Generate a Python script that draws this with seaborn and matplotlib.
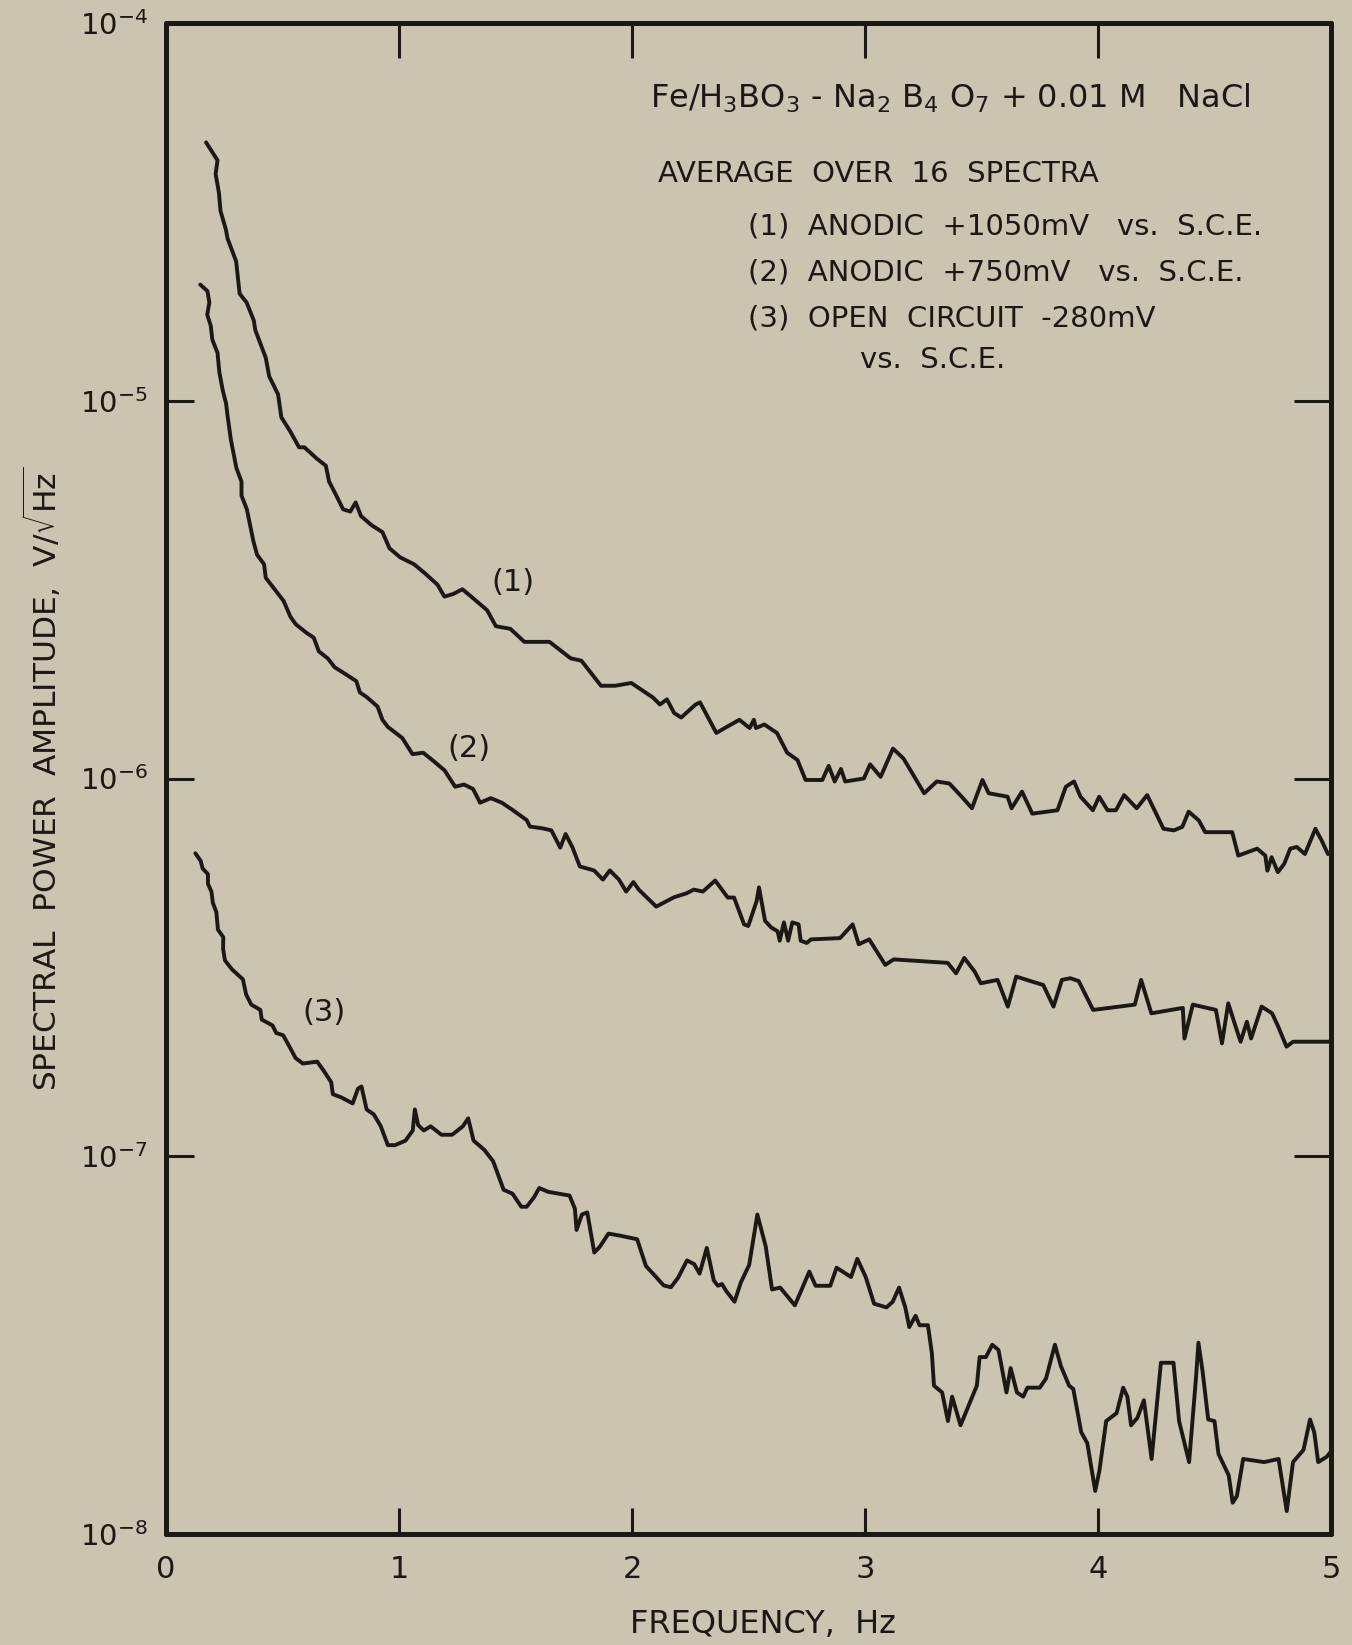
import matplotlib
matplotlib.use("Agg")
import matplotlib.pyplot as plt
from matplotlib.ticker import NullLocator
import seaborn as sns

# ---- spectra: frequency (Hz) and spectral power amplitude (V/sqrt(Hz)) ----
freq_1 = [0.172, 0.221, 0.213, 0.227, 0.234, 0.257, 0.264, 0.301, 0.316, 0.346,
          0.377, 0.383, 0.428, 0.443, 0.481, 0.495, 0.533, 0.571, 0.594, 0.647,
          0.686, 0.700, 0.731, 0.760, 0.791, 0.814, 0.837, 0.883, 0.929, 0.959,
          1.005, 1.065, 1.112, 1.165, 1.195, 1.233, 1.272, 1.310, 1.378, 1.416,
          1.478, 1.538, 1.646, 1.737, 1.783, 1.867, 1.928, 1.997, 2.089, 2.120,
          2.150, 2.181, 2.211, 2.273, 2.292, 2.362, 2.398, 2.461, 2.505, 2.523,
          2.532, 2.568, 2.622, 2.666, 2.710, 2.745, 2.817, 2.844, 2.870, 2.897,
          2.915, 2.995, 3.022, 3.067, 3.120, 3.165, 3.254, 3.308, 3.362, 3.415,
          3.459, 3.504, 3.531, 3.612, 3.629, 3.674, 3.718, 3.826, 3.862, 3.897,
          3.925, 3.978, 4.005, 4.041, 4.077, 4.112, 4.166, 4.211, 4.281, 4.326,
          4.362, 4.389, 4.433, 4.460, 4.576, 4.602, 4.683, 4.718, 4.727, 4.745,
          4.772, 4.799, 4.825, 4.853, 4.888, 4.933, 4.960, 4.987]
amp_1 = [4.83e-5, 4.33e-5, 3.98e-5, 3.56e-5, 3.18e-5, 2.84e-5, 2.69e-5, 2.34e-5, 1.92e-5, 1.82e-5,
         1.63e-5, 1.54e-5, 1.30e-5, 1.16e-5, 1.04e-5, 9.04e-6, 8.30e-6, 7.53e-6, 7.53e-6, 7.03e-6,
         6.73e-6, 6.11e-6, 5.61e-6, 5.16e-6, 5.09e-6, 5.38e-6, 4.95e-6, 4.68e-6, 4.49e-6, 4.07e-6,
         3.85e-6, 3.69e-6, 3.49e-6, 3.26e-6, 3.03e-6, 3.08e-6, 3.17e-6, 3.03e-6, 2.79e-6, 2.53e-6,
         2.49e-6, 2.30e-6, 2.30e-6, 2.08e-6, 2.05e-6, 1.76e-6, 1.76e-6, 1.79e-6, 1.64e-6, 1.57e-6,
         1.62e-6, 1.49e-6, 1.45e-6, 1.57e-6, 1.59e-6, 1.32e-6, 1.36e-6, 1.43e-6, 1.36e-6, 1.43e-6,
         1.36e-6, 1.39e-6, 1.32e-6, 1.17e-6, 1.12e-6, 9.91e-7, 9.91e-7, 1.08e-6, 9.82e-7, 1.06e-6,
         9.82e-7, 1.00e-6, 1.09e-6, 1.01e-6, 1.20e-6, 1.13e-6, 9.14e-7, 9.82e-7, 9.70e-7, 8.95e-7,
         8.34e-7, 9.91e-7, 9.14e-7, 8.95e-7, 8.34e-7, 9.23e-7, 8.07e-7, 8.24e-7, 9.51e-7, 9.82e-7,
         8.95e-7, 8.24e-7, 8.95e-7, 8.24e-7, 8.24e-7, 9.04e-7, 8.34e-7, 9.04e-7, 7.36e-7, 7.29e-7,
         7.45e-7, 8.17e-7, 7.74e-7, 7.21e-7, 7.21e-7, 6.25e-7, 6.52e-7, 6.25e-7, 5.70e-7, 6.19e-7,
         5.65e-7, 5.94e-7, 6.52e-7, 6.59e-7, 6.31e-7, 7.36e-7, 6.85e-7, 6.31e-7]

freq_2 = [0.147, 0.178, 0.186, 0.177, 0.192, 0.199, 0.221, 0.229, 0.243, 0.258,
          0.265, 0.279, 0.302, 0.324, 0.324, 0.347, 0.375, 0.391, 0.421, 0.428,
          0.466, 0.505, 0.534, 0.557, 0.603, 0.634, 0.656, 0.694, 0.724, 0.770,
          0.817, 0.832, 0.863, 0.908, 0.929, 0.952, 1.014, 1.058, 1.104, 1.150,
          1.196, 1.241, 1.279, 1.318, 1.348, 1.394, 1.441, 1.487, 1.548, 1.562,
          1.616, 1.654, 1.692, 1.715, 1.745, 1.776, 1.837, 1.875, 1.905, 1.944,
          1.975, 2.006, 2.029, 2.104, 2.150, 2.181, 2.235, 2.265, 2.304, 2.357,
          2.411, 2.438, 2.481, 2.499, 2.535, 2.545, 2.571, 2.598, 2.625, 2.634,
          2.652, 2.670, 2.688, 2.715, 2.724, 2.750, 2.768, 2.893, 2.947, 2.973,
          3.018, 3.087, 3.123, 3.355, 3.391, 3.426, 3.471, 3.497, 3.569, 3.613,
          3.649, 3.694, 3.765, 3.809, 3.845, 3.881, 3.917, 3.979, 4.158, 4.185,
          4.229, 4.364, 4.371, 4.407, 4.506, 4.532, 4.559, 4.586, 4.612, 4.639,
          4.657, 4.702, 4.747, 4.774, 4.809, 4.837, 4.998]
amp_2 = [2.03e-5, 1.95e-5, 1.82e-5, 1.69e-5, 1.58e-5, 1.45e-5, 1.34e-5, 1.19e-5, 1.07e-5, 9.82e-6,
         9.04e-6, 7.85e-6, 6.64e-6, 6.11e-6, 5.61e-6, 5.16e-6, 4.25e-6, 3.91e-6, 3.69e-6, 3.40e-6,
         3.17e-6, 2.95e-6, 2.68e-6, 2.56e-6, 2.43e-6, 2.36e-6, 2.17e-6, 2.08e-6, 1.97e-6, 1.89e-6,
         1.81e-6, 1.69e-6, 1.64e-6, 1.55e-6, 1.43e-6, 1.37e-6, 1.28e-6, 1.16e-6, 1.17e-6, 1.11e-6,
         1.05e-6, 9.51e-7, 9.64e-7, 9.38e-7, 8.63e-7, 8.87e-7, 8.63e-7, 8.26e-7, 7.76e-7, 7.46e-7,
         7.38e-7, 7.29e-7, 6.56e-7, 7.13e-7, 6.56e-7, 5.85e-7, 5.71e-7, 5.40e-7, 5.71e-7, 5.40e-7,
         5.02e-7, 5.32e-7, 5.08e-7, 4.58e-7, 4.74e-7, 4.85e-7, 4.97e-7, 5.08e-7, 5.02e-7, 5.37e-7,
         4.84e-7, 4.84e-7, 4.11e-7, 4.07e-7, 4.74e-7, 5.15e-7, 4.20e-7, 4.03e-7, 3.94e-7, 3.72e-7,
         4.16e-7, 3.72e-7, 4.16e-7, 4.11e-7, 3.72e-7, 3.67e-7, 3.75e-7, 3.78e-7, 4.11e-7, 3.64e-7,
         3.75e-7, 3.21e-7, 3.32e-7, 3.25e-7, 3.05e-7, 3.35e-7, 3.08e-7, 2.87e-7, 2.93e-7, 2.49e-7,
         2.99e-7, 2.93e-7, 2.84e-7, 2.49e-7, 2.93e-7, 2.96e-7, 2.91e-7, 2.44e-7, 2.52e-7, 2.93e-7,
         2.39e-7, 2.47e-7, 2.05e-7, 2.52e-7, 2.44e-7, 1.99e-7, 2.54e-7, 2.25e-7, 2.01e-7, 2.27e-7,
         2.05e-7, 2.49e-7, 2.39e-7, 2.20e-7, 1.95e-7, 2.01e-7, 2.01e-7]

freq_3 = [0.126, 0.149, 0.157, 0.180, 0.180, 0.195, 0.201, 0.216, 0.223, 0.246,
          0.245, 0.253, 0.284, 0.330, 0.344, 0.366, 0.405, 0.411, 0.457, 0.473,
          0.503, 0.534, 0.556, 0.587, 0.649, 0.678, 0.709, 0.716, 0.754, 0.801,
          0.824, 0.839, 0.861, 0.892, 0.922, 0.952, 0.983, 1.028, 1.059, 1.068,
          1.082, 1.106, 1.136, 1.182, 1.228, 1.274, 1.297, 1.320, 1.366, 1.404,
          1.449, 1.487, 1.525, 1.548, 1.579, 1.602, 1.640, 1.732, 1.755, 1.762,
          1.785, 1.808, 1.838, 1.861, 1.899, 1.945, 2.022, 2.060, 2.098, 2.136,
          2.167, 2.198, 2.236, 2.267, 2.290, 2.321, 2.351, 2.369, 2.386, 2.404,
          2.440, 2.467, 2.503, 2.538, 2.574, 2.601, 2.636, 2.699, 2.735, 2.761,
          2.788, 2.851, 2.878, 2.940, 2.967, 3.003, 3.039, 3.092, 3.119, 3.146,
          3.173, 3.190, 3.217, 3.234, 3.270, 3.287, 3.296, 3.331, 3.356, 3.374,
          3.410, 3.454, 3.480, 3.492, 3.519, 3.546, 3.573, 3.607, 3.625, 3.652,
          3.679, 3.697, 3.750, 3.777, 3.815, 3.841, 3.876, 3.894, 3.928, 3.954,
          3.988, 4.006, 4.035, 4.080, 4.108, 4.126, 4.142, 4.169, 4.197, 4.230,
          4.270, 4.324, 4.348, 4.391, 4.421, 4.431, 4.449, 4.473, 4.500, 4.517,
          4.561, 4.578, 4.596, 4.623, 4.713, 4.775, 4.810, 4.837, 4.882, 4.910,
          4.928, 4.945, 4.981, 4.999]
amp_3 = [6.34e-7, 6.05e-7, 5.78e-7, 5.58e-7, 5.26e-7, 5.02e-7, 4.69e-7, 4.43e-7, 3.98e-7, 3.80e-7,
         3.54e-7, 3.30e-7, 3.12e-7, 2.94e-7, 2.68e-7, 2.52e-7, 2.44e-7, 2.30e-7, 2.22e-7, 2.12e-7,
         2.09e-7, 1.93e-7, 1.82e-7, 1.76e-7, 1.78e-7, 1.68e-7, 1.57e-7, 1.46e-7, 1.43e-7, 1.38e-7,
         1.51e-7, 1.53e-7, 1.33e-7, 1.29e-7, 1.20e-7, 1.07e-7, 1.07e-7, 1.10e-7, 1.17e-7, 1.33e-7,
         1.21e-7, 1.17e-7, 1.20e-7, 1.14e-7, 1.14e-7, 1.20e-7, 1.26e-7, 1.10e-7, 1.04e-7, 9.70e-8,
         8.15e-8, 7.96e-8, 7.35e-8, 7.35e-8, 7.78e-8, 8.24e-8, 8.05e-8, 7.87e-8, 7.26e-8, 6.38e-8,
         7.01e-8, 7.10e-8, 5.56e-8, 5.75e-8, 6.24e-8, 6.17e-8, 6.03e-8, 5.12e-8, 4.83e-8, 4.55e-8,
         4.50e-8, 4.77e-8, 5.30e-8, 5.18e-8, 4.89e-8, 5.72e-8, 4.69e-8, 4.54e-8, 4.59e-8, 4.40e-8,
         4.12e-8, 4.63e-8, 5.16e-8, 7.01e-8, 5.77e-8, 4.44e-8, 4.49e-8, 4.03e-8, 4.54e-8, 4.95e-8,
         4.54e-8, 4.54e-8, 5.07e-8, 4.79e-8, 5.35e-8, 4.79e-8, 4.07e-8, 3.98e-8, 4.12e-8, 4.49e-8,
         3.98e-8, 3.53e-8, 3.78e-8, 3.57e-8, 3.57e-8, 3.01e-8, 2.47e-8, 2.37e-8, 1.99e-8, 2.31e-8,
         1.94e-8, 2.26e-8, 2.47e-8, 2.94e-8, 2.94e-8, 3.17e-8, 3.07e-8, 2.37e-8, 2.75e-8, 2.37e-8,
         2.31e-8, 2.44e-8, 2.44e-8, 2.58e-8, 3.17e-8, 2.78e-8, 2.47e-8, 2.42e-8, 1.86e-8, 1.74e-8,
         1.30e-8, 1.47e-8, 1.99e-8, 2.09e-8, 2.44e-8, 2.31e-8, 1.94e-8, 2.03e-8, 2.26e-8, 1.58e-8,
         2.84e-8, 2.84e-8, 1.99e-8, 1.55e-8, 2.61e-8, 3.21e-8, 2.69e-8, 2.01e-8, 1.99e-8, 1.63e-8,
         1.43e-8, 1.21e-8, 1.26e-8, 1.58e-8, 1.55e-8, 1.58e-8, 1.15e-8, 1.55e-8, 1.67e-8, 2.01e-8,
         1.86e-8, 1.55e-8, 1.60e-8, 1.65e-8]

curve_tags = ["(1)", "(2)", "(3)"]
tag_freq = [1.49, 1.30, 0.68]
tag_amp = [3.3e-6, 1.2e-6, 2.4e-7]

x_ticks = [0, 1, 2, 3, 4, 5]
x_tick_labels = ["0", "1", "2", "3", "4", "5"]
y_ticks = [1e-8, 1e-7, 1e-6, 1e-5, 1e-4]
y_tick_labels = [r"$10^{-8}$", r"$10^{-7}$", r"$10^{-6}$", r"$10^{-5}$", r"$10^{-4}$"]

legend_lines = [
    r"Fe/H$_3$BO$_3$ - Na$_2$ B$_4$ O$_7$ + 0.01 M   NaCl",
    "AVERAGE  OVER  16  SPECTRA",
    "(1)  ANODIC  +1050mV   vs.  S.C.E.",
    "(2)  ANODIC  +750mV   vs.  S.C.E.",
    "(3)  OPEN  CIRCUIT  -280mV",
    "vs.  S.C.E.",
]

# ---- style ----
PAPER = "#cbc4b1"
INK = "#1c1814"
W, H = 1352, 1645

sns.set_theme(style="ticks")
plt.rcParams["font.family"] = ["DejaVu Sans"]
plt.rcParams["mathtext.fontset"] = "dejavusans"
plt.rcParams["text.color"] = INK

fig = plt.figure(figsize=(W / 100, H / 100), dpi=100, facecolor=PAPER)
ax = fig.add_axes([166 / W, 1 - 1534 / H, 1165 / W, 1511 / H])
ax.set_facecolor(PAPER)

for f, a in [(freq_1, amp_1), (freq_2, amp_2), (freq_3, amp_3)]:
    sns.lineplot(x=f, y=a, ax=ax, sort=False, estimator=None,
                 color=INK, linewidth=2.8, solid_capstyle="round",
                 solid_joinstyle="round")

ax.set_yscale("log")
ax.set_xlim(0, 5)
ax.set_ylim(1e-8, 1e-4)
ax.set_xticks(x_ticks)
ax.set_xticklabels(x_tick_labels)
ax.set_yticks(y_ticks)
ax.set_yticklabels(y_tick_labels)
ax.yaxis.set_minor_locator(NullLocator())
ax.xaxis.set_minor_locator(NullLocator())

for s in ax.spines.values():
    s.set_visible(True)
    s.set_linewidth(3.6)
    s.set_color(INK)
    s.set_capstyle("round")

ax.tick_params(axis="x", direction="in", length=19, width=2.2, color=INK,
               labelsize=22, labelcolor=INK, pad=15)
ax.tick_params(axis="y", direction="in", length=20, width=2.2, color=INK,
               labelsize=21, labelcolor=INK, pad=13)

# longer inner ticks along the top and right edges
top = ax.secondary_xaxis("top")
top.set_xticks(x_ticks[1:-1])
top.tick_params(direction="in", length=25, width=2.2, color=INK, labeltop=False)
right = ax.secondary_yaxis("right")
right.set_yticks(y_ticks[1:-1])
right.yaxis.set_minor_locator(NullLocator())
right.tick_params(direction="in", length=27, width=2.2, color=INK, labelright=False)
for sec in (top, right):
    for s in sec.spines.values():
        s.set_visible(False)

ax.set_xlabel("FREQUENCY,  Hz", fontsize=23, color=INK, va="center")
ax.xaxis.set_label_coords(0.512, -0.0596)
ax.set_ylabel(r"SPECTRAL  POWER  AMPLITUDE,  V/$\sqrt{\mathrm{Hz}}$",
              fontsize=22.5, color=INK, va="center")
ax.yaxis.set_label_coords(-0.1064, 0.5)

for tag, fx, fy in zip(curve_tags, tag_freq, tag_amp):
    ax.text(fx, fy, tag, fontsize=22, color=INK, ha="center", va="center")

# condition notes in the upper right
note_pos = [(650, 98), (658, 174), (748, 226), (748, 273), (748, 318), (860, 360)]
note_size = [23, 21, 21, 21, 21, 21]
for (px, py), line, fs in zip(note_pos, legend_lines, note_size):
    fig.text(px / W, 1 - py / H, line, fontsize=fs, color=INK,
             ha="left", va="center")

fig.savefig("out.png", dpi=100, facecolor=PAPER)
